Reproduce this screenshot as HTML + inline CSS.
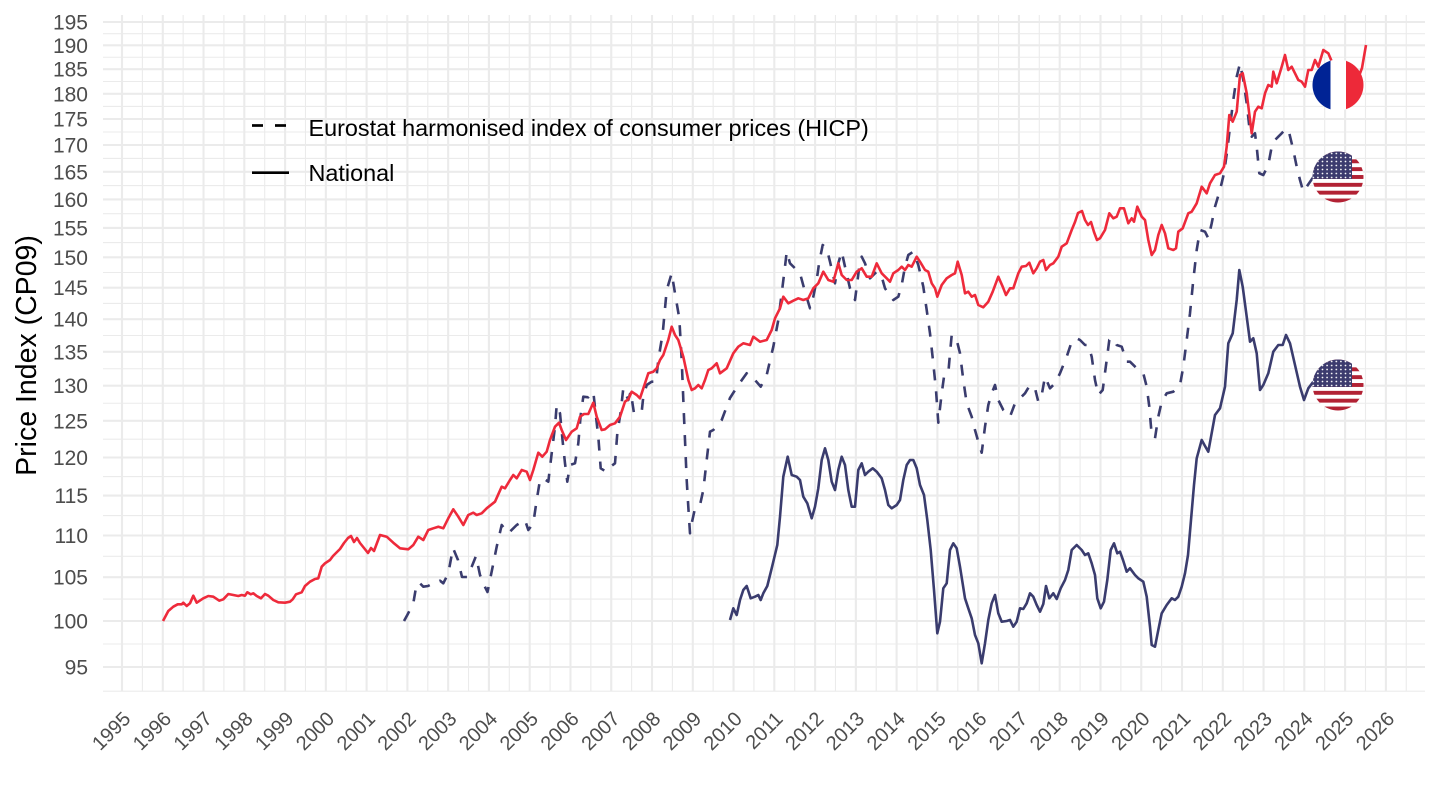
<!DOCTYPE html>
<html><head><meta charset="utf-8"><style>
html,body{margin:0;padding:0;background:#fff;}
svg{display:block;}
text{font-family:"Liberation Sans",Arial,sans-serif;}
</style></head><body>
<svg width="1440" height="810" viewBox="0 0 1440 810" xmlns="http://www.w3.org/2000/svg">
<defs>
<clipPath id="c1"><circle cx="1338" cy="85" r="25.5"/></clipPath>
<clipPath id="c2"><circle cx="1338" cy="177" r="25.5"/></clipPath>
<clipPath id="c3"><circle cx="1338" cy="385" r="25.5"/></clipPath>
<pattern id="st" width="4.6" height="4" patternUnits="userSpaceOnUse"><circle cx="2.3" cy="2" r="0.85" fill="#fff"/></pattern>
<g id="us">
<rect x="1310" y="0" width="60" height="51" fill="#fff"/>
<rect x="1310" y="0" width="60" height="3.92" fill="#B22234"/>
<rect x="1310" y="7.84" width="60" height="3.92" fill="#B22234"/>
<rect x="1310" y="15.68" width="60" height="3.92" fill="#B22234"/>
<rect x="1310" y="23.52" width="60" height="3.92" fill="#B22234"/>
<rect x="1310" y="31.36" width="60" height="3.92" fill="#B22234"/>
<rect x="1310" y="39.2" width="60" height="3.92" fill="#B22234"/>
<rect x="1310" y="47.04" width="60" height="3.96" fill="#B22234"/>
<rect x="1310" y="0" width="42" height="27.4" fill="#3C3B6E"/>
<rect x="1310" y="0" width="42" height="27.4" fill="url(#st)"/>
</g>
</defs>
<rect width="1440" height="810" fill="#fff"/>

<!-- minor grid -->
<path fill="none" stroke="#ebebeb" stroke-width="1.1" d="M142.39 15V691.5M183.15 15V691.5M223.92 15V691.5M264.69 15V691.5M305.46 15V691.5M346.23 15V691.5M387 15V691.5M427.77 15V691.5M468.54 15V691.5M509.31 15V691.5M550.08 15V691.5M590.85 15V691.5M631.62 15V691.5M672.39 15V691.5M713.16 15V691.5M753.93 15V691.5M794.7 15V691.5M835.47 15V691.5M876.24 15V691.5M917.01 15V691.5M957.78 15V691.5M998.55 15V691.5M1039.32 15V691.5M1080.09 15V691.5M1120.86 15V691.5M1161.63 15V691.5M1202.4 15V691.5M1243.17 15V691.5M1283.94 15V691.5M1324.71 15V691.5M1365.48 15V691.5M1406.25 15V691.5
M103 691.2H1425M103 644H1425M103 599.1H1425M103 556.35H1425M103 515.55H1425M103 476.55H1425M103 439.15H1425M103 403.25H1425M103 368.75H1425M103 335.5H1425M103 303.45H1425M103 272.5H1425M103 242.6H1425M103 213.65H1425M103 185.6H1425M103 158.4H1425M103 132H1425M103 106.4H1425M103 81.5H1425M103 57.25H1425M103 33.65H1425"/>
<!-- major grid -->
<path fill="none" stroke="#ebebeb" stroke-width="2.1" d="M122 15V691.5M162.77 15V691.5M203.54 15V691.5M244.31 15V691.5M285.08 15V691.5M325.85 15V691.5M366.62 15V691.5M407.39 15V691.5M448.16 15V691.5M488.93 15V691.5M529.7 15V691.5M570.47 15V691.5M611.24 15V691.5M652.01 15V691.5M692.78 15V691.5M733.55 15V691.5M774.32 15V691.5M815.09 15V691.5M855.86 15V691.5M896.63 15V691.5M937.4 15V691.5M978.17 15V691.5M1018.94 15V691.5M1059.71 15V691.5M1100.48 15V691.5M1141.25 15V691.5M1182.02 15V691.5M1222.79 15V691.5M1263.56 15V691.5M1304.33 15V691.5M1345.1 15V691.5M1385.87 15V691.5
M103 667H1425M103 621H1425M103 577.2H1425M103 535.5H1425M103 495.6H1425M103 457.5H1425M103 420.8H1425M103 385.7H1425M103 351.8H1425M103 319.2H1425M103 287.7H1425M103 257.3H1425M103 227.9H1425M103 199.4H1425M103 171.8H1425M103 145H1425M103 119H1425M103 93.8H1425M103 69.2H1425M103 45.3H1425M103 22H1425"/>

<!-- y tick labels -->
<g font-size="21" fill="#4d4d4d" text-anchor="end">
<text x="88" y="674.5">95</text>
<text x="88" y="628.5">100</text>
<text x="88" y="584.7">105</text>
<text x="88" y="543">110</text>
<text x="88" y="503.1">115</text>
<text x="88" y="465">120</text>
<text x="88" y="428.3">125</text>
<text x="88" y="393.2">130</text>
<text x="88" y="359.3">135</text>
<text x="88" y="326.7">140</text>
<text x="88" y="295.2">145</text>
<text x="88" y="264.8">150</text>
<text x="88" y="235.4">155</text>
<text x="88" y="206.9">160</text>
<text x="88" y="179.3">165</text>
<text x="88" y="152.5">170</text>
<text x="88" y="126.5">175</text>
<text x="88" y="101.3">180</text>
<text x="88" y="76.7">185</text>
<text x="88" y="52.8">190</text>
<text x="88" y="29.5">195</text>
</g>

<!-- x tick labels -->
<g font-size="20" fill="#4d4d4d" text-anchor="end">
<text x="131.7" y="720" transform="rotate(-45 131.7 720)">1995</text>
<text x="172.47" y="720" transform="rotate(-45 172.47 720)">1996</text>
<text x="213.24" y="720" transform="rotate(-45 213.24 720)">1997</text>
<text x="254.01" y="720" transform="rotate(-45 254.01 720)">1998</text>
<text x="294.78" y="720" transform="rotate(-45 294.78 720)">1999</text>
<text x="335.55" y="720" transform="rotate(-45 335.55 720)">2000</text>
<text x="376.32" y="720" transform="rotate(-45 376.32 720)">2001</text>
<text x="417.09" y="720" transform="rotate(-45 417.09 720)">2002</text>
<text x="457.86" y="720" transform="rotate(-45 457.86 720)">2003</text>
<text x="498.63" y="720" transform="rotate(-45 498.63 720)">2004</text>
<text x="539.4" y="720" transform="rotate(-45 539.4 720)">2005</text>
<text x="580.17" y="720" transform="rotate(-45 580.17 720)">2006</text>
<text x="620.94" y="720" transform="rotate(-45 620.94 720)">2007</text>
<text x="661.71" y="720" transform="rotate(-45 661.71 720)">2008</text>
<text x="702.48" y="720" transform="rotate(-45 702.48 720)">2009</text>
<text x="743.25" y="720" transform="rotate(-45 743.25 720)">2010</text>
<text x="784.02" y="720" transform="rotate(-45 784.02 720)">2011</text>
<text x="824.79" y="720" transform="rotate(-45 824.79 720)">2012</text>
<text x="865.56" y="720" transform="rotate(-45 865.56 720)">2013</text>
<text x="906.33" y="720" transform="rotate(-45 906.33 720)">2014</text>
<text x="947.1" y="720" transform="rotate(-45 947.1 720)">2015</text>
<text x="987.87" y="720" transform="rotate(-45 987.87 720)">2016</text>
<text x="1028.64" y="720" transform="rotate(-45 1028.64 720)">2017</text>
<text x="1069.41" y="720" transform="rotate(-45 1069.41 720)">2018</text>
<text x="1110.18" y="720" transform="rotate(-45 1110.18 720)">2019</text>
<text x="1150.95" y="720" transform="rotate(-45 1150.95 720)">2020</text>
<text x="1191.72" y="720" transform="rotate(-45 1191.72 720)">2021</text>
<text x="1232.49" y="720" transform="rotate(-45 1232.49 720)">2022</text>
<text x="1273.26" y="720" transform="rotate(-45 1273.26 720)">2023</text>
<text x="1314.03" y="720" transform="rotate(-45 1314.03 720)">2024</text>
<text x="1354.8" y="720" transform="rotate(-45 1354.8 720)">2025</text>
<text x="1395.57" y="720" transform="rotate(-45 1395.57 720)">2026</text>
</g>

<!-- axis title -->
<text x="36" y="355.5" font-size="28.5" fill="#000" text-anchor="middle" transform="rotate(-90 36 355.5)">Price Index (CP09)</text>

<!-- HICP dashed -->
<polyline fill="none" stroke="#3a3c6e" stroke-width="2.6" stroke-dasharray="11 11" stroke-linejoin="round" points="404,621 407.3,615 413.3,603.3 416.7,583.3 420,583.3 423.3,586.7 428,586 432,584 436.7,583.3 440,580.7 443.3,583.3 448.3,573.3 453,548 458,560 462,577 467,577 472,566 476,556 480,575 484,585 487.5,592 492,570 496.7,546.7 501.7,525 508.3,533.3 516.7,525 525,520 528.3,530 533.3,523.3 536.7,500 540,480 543.3,478.3 548.3,481.7 551.7,453.3 555,426.7 556.7,405 560,413.3 562.7,441.7 565,463.3 567.3,481.7 570,465 575,463.3 578.3,443.3 580.7,415 583.3,396.7 588.3,397.3 593.3,391.7 596,416.7 598.3,436.7 600.7,468.3 606,471.7 608.3,468.3 615,463.3 617.3,433.3 620.7,411.7 623.3,388.3 628.3,400 630.7,391.7 634,413.3 641.7,411.7 643.3,396.7 646.7,385 651.7,381.7 656,381.7 658.3,360 662.7,333.3 666.7,290 671.7,273.3 675,293.3 679.3,318.3 681.7,360 684,416.7 686.7,480 688.3,506.7 690,533.3 691.7,523.3 695,508.3 700,505 703.3,490 706.7,460 710,431.7 713.3,430 721.7,420 730,398 738.3,385 746.7,373.3 750,378.3 755,380 760.7,386.7 766.7,375 773.3,346.7 778.3,320 781.7,293.3 785,266.7 786.7,251.7 790,263.3 795,268.3 800,273.3 805,291.7 810,308.3 813.3,296.7 816.7,280 819.3,261.7 822.7,245 826.7,248.3 830,261.7 835,283.3 838.3,263.3 841.7,251.7 845,266.7 850,288.3 855,300 859.3,266.7 861.7,256.7 865,263.3 870,278.3 876.7,271.7 881.7,276.7 885,288.3 888.3,293.3 893.3,300 898.3,296.7 901.7,285 905,266.7 908.3,255 913.3,251.7 918.3,265 923.3,286.7 926.7,310 930,333.3 933.3,363.3 936,390 938.3,422.7 941.7,393.3 944,376.7 948.3,373.3 950,353.3 951.7,335 956.7,340 960,353.3 963.3,380 966.7,403.3 971.7,416.7 975,430 978.3,441.7 981.7,452.7 985,426.7 988.3,405 991.7,393.3 995,385 998.3,400 1003.3,410 1010,416.7 1015,403.3 1020,398.3 1025,393.3 1030,385 1035,388.3 1038.3,401.7 1041.7,395 1045,376.7 1050,388.3 1055,383.3 1060,373.3 1066.7,356.7 1071.7,341.7 1076.7,338.3 1080,340 1085,345 1088.3,345 1091.7,356.7 1095,380 1098.3,395 1102.7,390 1106.7,360 1109.3,340 1113.3,338.3 1116.7,345 1121.7,346.7 1126.7,361.7 1130,361.7 1136.7,368.3 1143.3,373.3 1146.7,386.7 1149.3,406.7 1151.7,435 1155,438.3 1158.3,416.7 1161.7,401.7 1166.7,393.3 1173.3,391.7 1180,385 1183.3,366.7 1186.7,340 1190,313.3 1193.3,280 1196.7,250 1200,230 1205,231.7 1208.3,238.3 1211.7,223.3 1215,206.7 1220,190 1224,173.3 1227.3,150 1230,126.7 1233.3,100 1236.7,76.7 1240,63.3 1243.3,80 1246.7,103.3 1249.3,126.7 1251.7,136.7 1255,133.3 1256.7,146.7 1259.3,173.3 1263.3,175 1268.3,165 1271.7,146.7 1275,140 1278.3,136.7 1281.7,133.3 1286,128.3 1289.3,133.3 1293.3,150 1296.7,166.7 1300,180 1303.3,191.7 1306.7,186.7 1313.3,177"/>

<!-- US national solid -->
<polyline fill="none" stroke="#3a3c6e" stroke-width="2.6" stroke-linejoin="round" points="730,620 733.3,608.3 736.7,615 740,600 743.3,590 746.7,586 750.7,598.3 755,596.7 758.3,595 760.7,600 763.3,593.3 767.3,586 771.7,568.3 777.3,545 780,516.7 783.3,476.7 787.7,456.7 791.7,475 796.7,476.7 800,480 803.3,496.7 807.3,503.3 811.7,518.3 815,506.7 818.3,488.3 821.7,460 825,448.3 828.3,460 831.7,481.7 835,490 838.3,470 841.7,456.7 845,465 848.3,490 851.7,506.7 855,506.7 858.3,470 861.7,463.3 865,475 868.3,471.7 872.7,468.3 876.7,471.7 881.7,478.3 885,490 888.3,505 891.7,508.3 896.7,505 900,500 903.3,480 906.7,465 910,460 913.3,460 916.7,468.3 920,485 924,495 927.3,520 930.7,550 934,590 937.3,633.3 940,621.7 943.3,588.3 946.7,583.3 950,550 953.3,543.3 956.7,548.3 960,566.7 965,598.3 968.3,608.3 971.7,618.3 975,635 978.3,643.3 981.7,663.3 985,643.3 988.3,620 991.7,603.3 995,595 998.3,613.3 1001.7,621.7 1006.7,621 1010,620 1013.3,626.7 1016.7,621.7 1020,608.3 1023.3,609 1026.7,603.3 1030,593.3 1033.3,596.7 1036.7,605 1040,611.7 1043.3,604 1046,586 1049.3,598.3 1053.3,593.3 1056.7,599 1060.7,588.3 1065,580 1068.3,570 1071.7,550 1076.7,545 1081.7,550 1085,555 1088.3,553.3 1091.7,563.3 1095,575 1097.3,598.3 1100.7,608.3 1104,601.7 1107.3,580 1110.7,550 1114,543.3 1117.3,553.3 1120,551.7 1123,560 1126.7,571.7 1130,568.3 1135,575 1138.3,578.3 1143.3,581.7 1146.7,596.7 1150,626.7 1151.7,645 1155,646.7 1158.3,630 1161.7,613.3 1166.7,605 1171.7,598.3 1175,600 1178.3,596.7 1181.7,586.7 1185,573.3 1188,555 1191,520 1194,485 1196.7,458.3 1201.7,440 1205,446 1208.3,451.7 1215,415 1220,408.3 1225,386.7 1228.3,343.3 1232.7,333.3 1236.7,300 1239.3,270 1242.7,286.7 1246.7,316.7 1250,341.7 1253.3,338.3 1256.7,353.3 1260,390 1263.3,385 1268.3,373.3 1273.3,351.7 1278.3,345 1282.7,345 1286,335 1290,343.3 1295,365 1300,386.7 1304,400 1308.3,388.3 1313.3,381.7"/>

<!-- France national red -->
<polyline fill="none" stroke="#ee2a3b" stroke-width="2.6" stroke-linejoin="round" points="163,621 168.3,611 173.3,606.7 177.7,604.3 181.7,604.3 183.3,602.7 186.7,606 190,603.3 193.3,595.7 196.7,602.7 203.3,598.3 208.3,596 213.3,596.7 219.3,600.7 223.3,599.3 228.3,594 233.3,595 238.3,596 241.7,595 245,595.7 247.3,592.3 250.7,594.3 253.3,593.3 256.7,596 261,598.3 265,594 268.3,595.7 273.3,600 278.3,602.3 285,602.7 290,601.7 292.7,599.3 296,594.3 301.7,592.3 305,586 310,581.7 315,579 318.3,578.3 321.7,566.7 325,563.3 330,560 333,556 337,552 340,549 344,543 348,538 351,536 354,542 357,538 360,543 364,548 368,553 371,548 374,551 377,543 380,535 386.7,536.7 393.3,542.7 400,548.3 408.3,549.3 413.3,545 418.3,536.7 423.3,540 428.3,530 433.3,528.3 438.3,526.7 443.3,528.3 448.3,518.3 453.3,509.3 458.3,516.7 463.3,525 468.3,515 473.3,512.7 476.7,515 481.7,513.3 486.7,508.3 495,501.7 501.7,486.7 505,488.3 510,480 513.3,475 516.7,478.3 521.7,470 526.7,471.7 530,480 533.3,470 538.3,452.7 542.3,456.7 546.7,451.7 550,440 555,426.7 559,422.7 561.7,430 566,440 571.7,431.7 576.7,428.3 580,416.7 584,414 588.3,414 593.3,402.7 596.7,416.7 601.7,430 605,429.3 610,425 615,423.3 620,416.7 625,401.7 628.3,399.3 631.7,391.7 636.7,395 640,398.3 645,383.3 648.3,373.3 653.3,371.7 656.7,368.3 660,360 663.3,355 668.3,340 671.7,326.7 675,335 678.3,340 683.3,356.7 688.3,380 691.7,390 695,388.3 698.3,385 701.7,388.3 705,380 708.3,370 711.7,368.3 716.7,363.3 720,373.3 726.7,368.3 733.3,353.3 738.3,346.7 743.3,343.3 750,345 753.3,336.7 760,341.7 766.7,340 771.7,330 775,318.3 780,308.3 783.3,296.7 788.3,303.3 793.3,300.7 798.3,298.3 803.3,300 808.3,298.3 813.3,288.3 818.3,283.3 823.3,271.7 828.3,280 833.3,281.7 838.3,263.3 841.7,275 846.7,280 851.7,280 856.7,271.7 861.7,268.3 866.7,276.7 871.7,276.7 876.7,263.3 881.7,273.3 886.7,278.3 890,281.7 893.3,273.3 898.3,270 901.7,266.7 905,270 908.3,265 911.7,266.7 916.7,256.7 920,261.7 925,270 928.3,271.7 931.7,283.3 935,288.3 937.3,296.7 941.7,285 946.7,278.3 951.7,275 955,273.3 957.7,261.7 961.7,275 965,293.3 968.3,291.7 971.7,296.7 975,295 978.3,305 983.3,307.3 988.3,301.7 992.7,291.7 998.3,276.7 1002.7,286.7 1006,295 1010,288.3 1013.3,288.3 1018.3,273.3 1021.7,266.7 1026,266 1029.3,262.7 1033.3,273.3 1036.7,268.3 1040,261.7 1043.3,260 1046,270 1050,265 1053.3,263.3 1058.3,256.7 1061.7,246.7 1066.7,243.3 1071.7,230 1075,222 1078,213 1082,211 1085,220 1088,225 1091,222 1094,232 1097,240 1100,238.3 1105,230 1109.3,213.3 1113.3,218.3 1116.7,216.7 1120,208.3 1124,208.3 1128.3,223.3 1131.7,218.3 1134,221.7 1137.3,206.7 1141.7,216.7 1145,220 1148.3,240 1151.7,255 1155,250 1158.3,235 1161.7,225 1165,233.3 1168.3,248.3 1173.3,250 1176,248.3 1178.3,231.7 1182.7,228.3 1188.3,213.3 1191.7,211.7 1196.7,203.3 1201.7,186.7 1206.7,193.3 1210,183.3 1215,175 1220,173.3 1224,166.7 1226.7,146.7 1229.3,115 1232.7,121.7 1236.7,111.7 1240,75 1242.7,73.3 1246.7,93.3 1251.7,133.3 1255,111.7 1258.3,106.7 1261.7,108.3 1265,93.3 1268.3,85 1271.7,86.7 1273.3,71.7 1276.7,83.3 1281.7,66.7 1285,55 1288.3,70 1291.7,66.7 1295,73.3 1298.3,80 1301.7,81.7 1305,86.7 1308.3,70 1311.7,70 1315,60 1318.3,66.7 1323.3,50 1328.3,53.3 1332,62 1336,70 1340,75 1345,78 1350,80 1355,82 1359,76 1362,68 1366,45"/>

<!-- France flag -->
<g clip-path="url(#c1)">
<rect x="1310" y="55" width="20.5" height="60" fill="#002395"/>
<rect x="1330.5" y="55" width="15.5" height="60" fill="#ffffff"/>
<rect x="1346" y="55" width="20" height="60" fill="#ED2939"/>
</g>
<!-- US flags -->
<g clip-path="url(#c2)"><use href="#us" transform="translate(0,151.5)"/></g>
<g clip-path="url(#c3)"><use href="#us" transform="translate(0,359.5)"/></g>

<!-- legend -->
<line x1="252" y1="125.5" x2="263" y2="125.5" stroke="#000" stroke-width="2.7"/>
<line x1="275" y1="125.5" x2="286" y2="125.5" stroke="#000" stroke-width="2.7"/>
<line x1="252" y1="172.7" x2="289" y2="172.7" stroke="#000" stroke-width="2.7"/>
<text x="308.5" y="136" font-size="23.4" fill="#000">Eurostat harmonised index of consumer prices (HICP)</text>
<text x="308.5" y="181" font-size="23.4" fill="#000">National</text>
</svg>
</body></html>
